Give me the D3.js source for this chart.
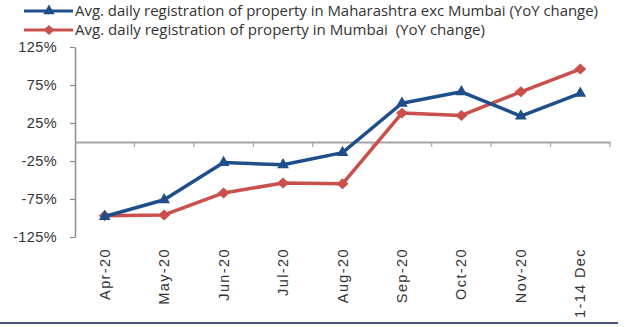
<!DOCTYPE html>
<html>
<head>
<meta charset="utf-8">
<script src="https://cdn.jsdelivr.net/npm/d3@7"></script>
<style>
  html, body { margin: 0; padding: 0; background: #fff; }
  svg { display: block; font-family: "Open Sans", "Liberation Sans", sans-serif; }
</style>
</head>
<body>
<svg id="chart" width="628" height="327"></svg>
<script>
// Months on the x axis
const categories = ["Apr-20", "May-20", "Jun-20", "Jul-20", "Aug-20", "Sep-20", "Oct-20", "Nov-20", "1-14 Dec"];
// YoY change (%) of average daily property registrations
const maharashtraExMumbai = [-98, -76, -27, -30, -14, 51, 66, 34, 64];
const mumbai = [-97, -96, -67, -54, -55, 38, 35, 66, 96];
// Y axis tick values
const yTicks = [125, 75, 25, -25, -75, -125];
const seriesNames = [
  "Avg. daily registration of property in Maharashtra exc Mumbai (YoY change)",
  "Avg. daily registration of property in Mumbai  (YoY change)"
];

const BLUE = "#1f4f8a";
const RED = "#c9504c";
const svg = d3.select("#chart");

const plotLeft = 75, plotRight = 610, plotTop = 47, plotBottom = 237;
const x = d3.scaleBand().domain(categories).range([plotLeft, plotRight]).paddingInner(0).paddingOuter(0);
const y = d3.scaleLinear().domain([-125, 125]).range([plotBottom, plotTop]);

// Wide diamond marker (a square turned 45 degrees)
const wideDiamond = {
  draw(ctx, size) {
    const r = Math.sqrt(size / 2);
    ctx.moveTo(0, -r); ctx.lineTo(r * 1.1, 0); ctx.lineTo(0, r); ctx.lineTo(-r * 1.1, 0); ctx.closePath();
  }
};

// Y axis
const yAxis = svg.append("g").attr("transform", `translate(${plotLeft},0)`)
  .call(d3.axisLeft(y).tickValues(yTicks).tickSize(5).tickSizeOuter(0).tickFormat(d => d + "%"));
yAxis.select(".domain").attr("stroke", "#8c8c8c").attr("stroke-width", 1.5);
yAxis.selectAll(".tick line").attr("stroke", "#8c8c8c").attr("stroke-width", 1.2);
yAxis.selectAll(".tick text").attr("x", -18).attr("fill", "#333")
  .style("font-size", "14.5px").style("letter-spacing", "0.4px");

// Category axis drawn along the zero line
const xAxis = svg.append("g").attr("transform", `translate(0,${y(0)})`)
  .call(d3.axisBottom(x).tickSize(0).tickSizeOuter(0));
xAxis.select(".domain").attr("stroke", "#a6a6a6").attr("stroke-width", 2);
xAxis.selectAll(".tick text")
  .attr("fill", "#333")
  .style("font-size", "14.5px")
  .style("letter-spacing", "1.4px")
  .attr("text-anchor", "end")
  .attr("dy", "0.35em")
  .attr("y", 0)
  .attr("x", 0)
  .attr("transform", `translate(0,${248 - y(0)}) rotate(-90)`);
// Boundary tick marks between categories
const boundaries = categories.slice(1).map(c => x(c)).concat([plotRight]);
svg.append("g").selectAll("line")
  .data(boundaries)
  .join("line")
  .attr("x1", d => d).attr("x2", d => d)
  .attr("y1", y(0)).attr("y2", y(0) + 5)
  .attr("stroke", "#a6a6a6").attr("stroke-width", 1.2);

const cx = d => x(d) + x.bandwidth() / 2;
const line = d3.line().x(d => cx(d.c)).y(d => y(d.v));

function drawSeries(values, color, shape, size) {
  const pts = values.map((v, i) => ({ c: categories[i], v }));
  svg.append("path").datum(pts).attr("d", line)
    .attr("fill", "none").attr("stroke", color).attr("stroke-width", 3.5)
    .attr("stroke-linejoin", "round");
  svg.append("g").selectAll("path").data(pts).join("path")
    .attr("d", d3.symbol().type(shape).size(size))
    .attr("transform", d => `translate(${cx(d.c)},${y(d.v)})`)
    .attr("fill", color);
}
// Red series first so the blue line sits on top
drawSeries(mumbai, RED, wideDiamond, 60);
drawSeries(maharashtraExMumbai, BLUE, d3.symbolTriangle, 60);

// Legend
const legend = [
  { name: seriesNames[0], color: BLUE, shape: d3.symbolTriangle, size: 55, y: 11, w: 523 },
  { name: seriesNames[1], color: RED, shape: wideDiamond, size: 50, y: 30, w: 410 }
];
const lg = svg.append("g").selectAll("g").data(legend).join("g")
  .attr("transform", d => `translate(0,${d.y})`);
lg.append("line").attr("x1", 24).attr("x2", 73).attr("y1", 0).attr("y2", 0)
  .attr("stroke", d => d.color).attr("stroke-width", 3);
lg.append("path").attr("d", d => d3.symbol().type(d.shape).size(d.size)())
  .attr("transform", "translate(49,0)").attr("fill", d => d.color);
lg.append("text").attr("x", 75).attr("dy", "0.35em")
  .attr("fill", "#333").style("font-size", "14px").style("white-space", "pre")
  .attr("textLength", d => d.w).attr("lengthAdjust", "spacingAndGlyphs")
  .text(d => d.name);

// Bottom rule
svg.append("line").attr("x1", 0).attr("x2", 618).attr("y1", 323).attr("y2", 323)
  .attr("stroke", "#4a5786").attr("stroke-width", 2);
</script>
</body>
</html>
